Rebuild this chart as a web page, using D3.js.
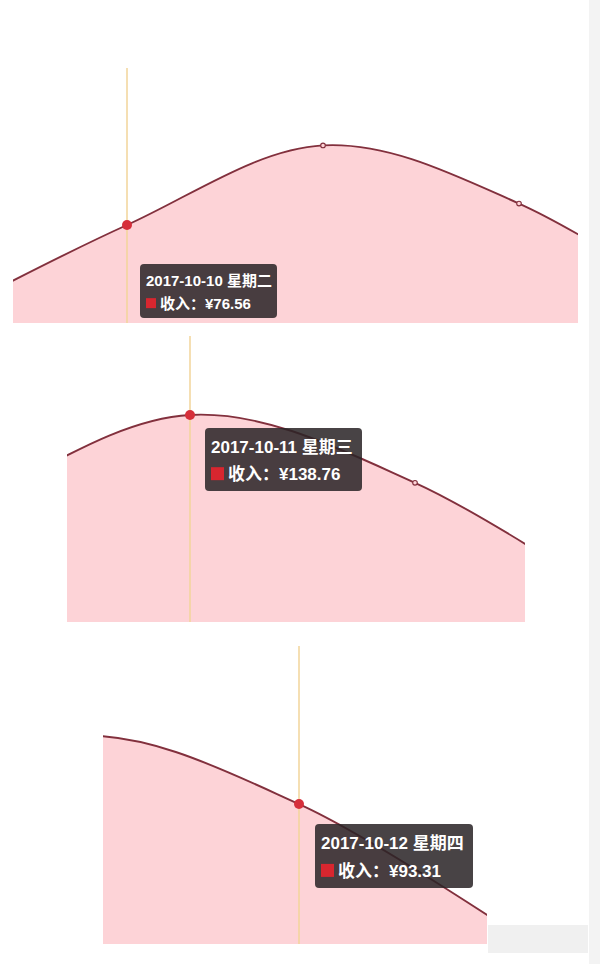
<!DOCTYPE html>
<html>
<head>
<meta charset="utf-8">
<script src="https://cdn.jsdelivr.net/npm/d3@7"></script>
<style>
  body { margin: 0; background: #fff; }
  svg { display: block; }
</style>
</head>
<body>
<div id="chart"></div>
<script>
// Data
const dates = ["2017-10-09", "2017-10-10", "2017-10-11", "2017-10-12", "2017-10-13"];
const weekdays = ["星期一", "星期二", "星期三", "星期四", "星期五"];
const income = [0, 76.56, 138.76, 93.31, 3];
const seriesName = "收入";
const focusIndex = [1, 2, 3]; // hovered day in each of the three views

// Layout of the three zoomed views
const panels = [
  { left: 13, right: 578, top: 68, base: 323, x0: 127, step: 196, k: 1.28,
    tip: { x: 140, y: 264, w: 137, h: 54 }, font: 15, mark: 10 },
  { left: 67, right: 525, top: 336, base: 622, x0: 190, step: 225, k: 1.492,
    tip: { x: 205, y: 428, w: 157, h: 63 }, font: 17, mark: 13 },
  { left: 103, right: 487, top: 646, base: 944, x0: 299, step: 225, k: 1.5,
    tip: { x: 315, y: 824, w: 158, h: 64 }, font: 17, mark: 13 }
];

const width = 600;
const height = 964;

const svg = d3.select("#chart")
  .append("svg")
  .attr("width", width)
  .attr("height", height);

// faint page edge + watermark smudge
svg.append("rect").attr("x", 589).attr("y", 0).attr("width", 11).attr("height", height).attr("fill", "#f3f3f3");
svg.append("rect").attr("x", 488).attr("y", 925).attr("width", 100).attr("height", 28).attr("fill", "#f0f0f0");

panels.forEach((p, n) => {
  const fi = focusIndex[n];
  const x = d3.scaleLinear().domain([fi, fi + 1]).range([p.x0, p.x0 + p.step]);
  const y = d3.scaleLinear().domain([0, 100]).range([p.base, p.base - 100 * p.k]);

  const g = svg.append("g");

  // clip each view to its visible window
  const clipId = "clip" + n;
  g.append("clipPath").attr("id", clipId)
    .append("rect")
    .attr("x", p.left).attr("y", p.top - 10)
    .attr("width", p.right - p.left).attr("height", p.base - p.top + 10);

  const plot = g.append("g").attr("clip-path", `url(#${clipId})`);

  const area = d3.area()
    .x((d, i) => x(i))
    .y0(p.base)
    .y1((d) => y(d))
    .curve(d3.curveCardinal);

  const line = d3.line()
    .x((d, i) => x(i))
    .y((d) => y(d))
    .curve(d3.curveCardinal);

  plot.append("path")
    .datum(income)
    .attr("d", area)
    .attr("fill", "#fdd3d7");

  // axis pointer
  plot.append("line")
    .attr("x1", x(fi)).attr("x2", x(fi))
    .attr("y1", p.top).attr("y2", p.base)
    .attr("stroke", "#f2d49a")
    .attr("stroke-width", 1.5);

  plot.append("path")
    .datum(income)
    .attr("d", line)
    .attr("fill", "none")
    .attr("stroke", "#82303d")
    .attr("stroke-width", 1.9);

  // small hollow symbols on the other days
  plot.selectAll("circle.sym")
    .data(income.map((v, i) => ({ v, i })).filter((d) => d.i !== fi))
    .enter()
    .append("circle")
    .attr("class", "sym")
    .attr("cx", (d) => x(d.i))
    .attr("cy", (d) => y(d.v))
    .attr("r", 2.3)
    .attr("fill", "#fdd3d7")
    .attr("stroke", "#82303d")
    .attr("stroke-width", 1.1);

  // hovered point
  plot.append("circle")
    .attr("cx", x(fi))
    .attr("cy", y(income[fi]))
    .attr("r", 5)
    .attr("fill", "#d62f3b");

  // tooltip
  const t = g.append("g").attr("transform", `translate(${p.tip.x},${p.tip.y})`);
  t.append("rect")
    .attr("width", p.tip.w).attr("height", p.tip.h)
    .attr("rx", 4)
    .attr("fill", "rgba(42,36,38,0.86)");

  const pad = 6;
  const lh = p.tip.h / 2;
  t.append("text")
    .attr("x", pad)
    .attr("y", lh * 0.5 + p.font * 0.36 + 3)
    .attr("fill", "#fff")
    .style("font-family", "'Liberation Sans', 'Noto Sans CJK SC', sans-serif")
    .style("font-size", p.font + "px")
    .style("font-weight", "bold")
    .text(`${dates[fi]} ${weekdays[fi]}`);

  t.append("rect")
    .attr("x", pad)
    .attr("y", lh * 1.45 - p.mark / 2)
    .attr("width", p.mark).attr("height", p.mark)
    .attr("fill", "#d8262f");

  t.append("text")
    .attr("x", pad + p.mark + 4)
    .attr("y", lh * 1.45 + p.font * 0.36)
    .attr("fill", "#fff")
    .style("font-family", "'Liberation Sans', 'Noto Sans CJK SC', sans-serif")
    .style("font-size", p.font + "px")
    .style("font-weight", "bold")
    .text(`${seriesName}：¥${income[fi].toFixed(2)}`);
});
</script>
</body>
</html>
